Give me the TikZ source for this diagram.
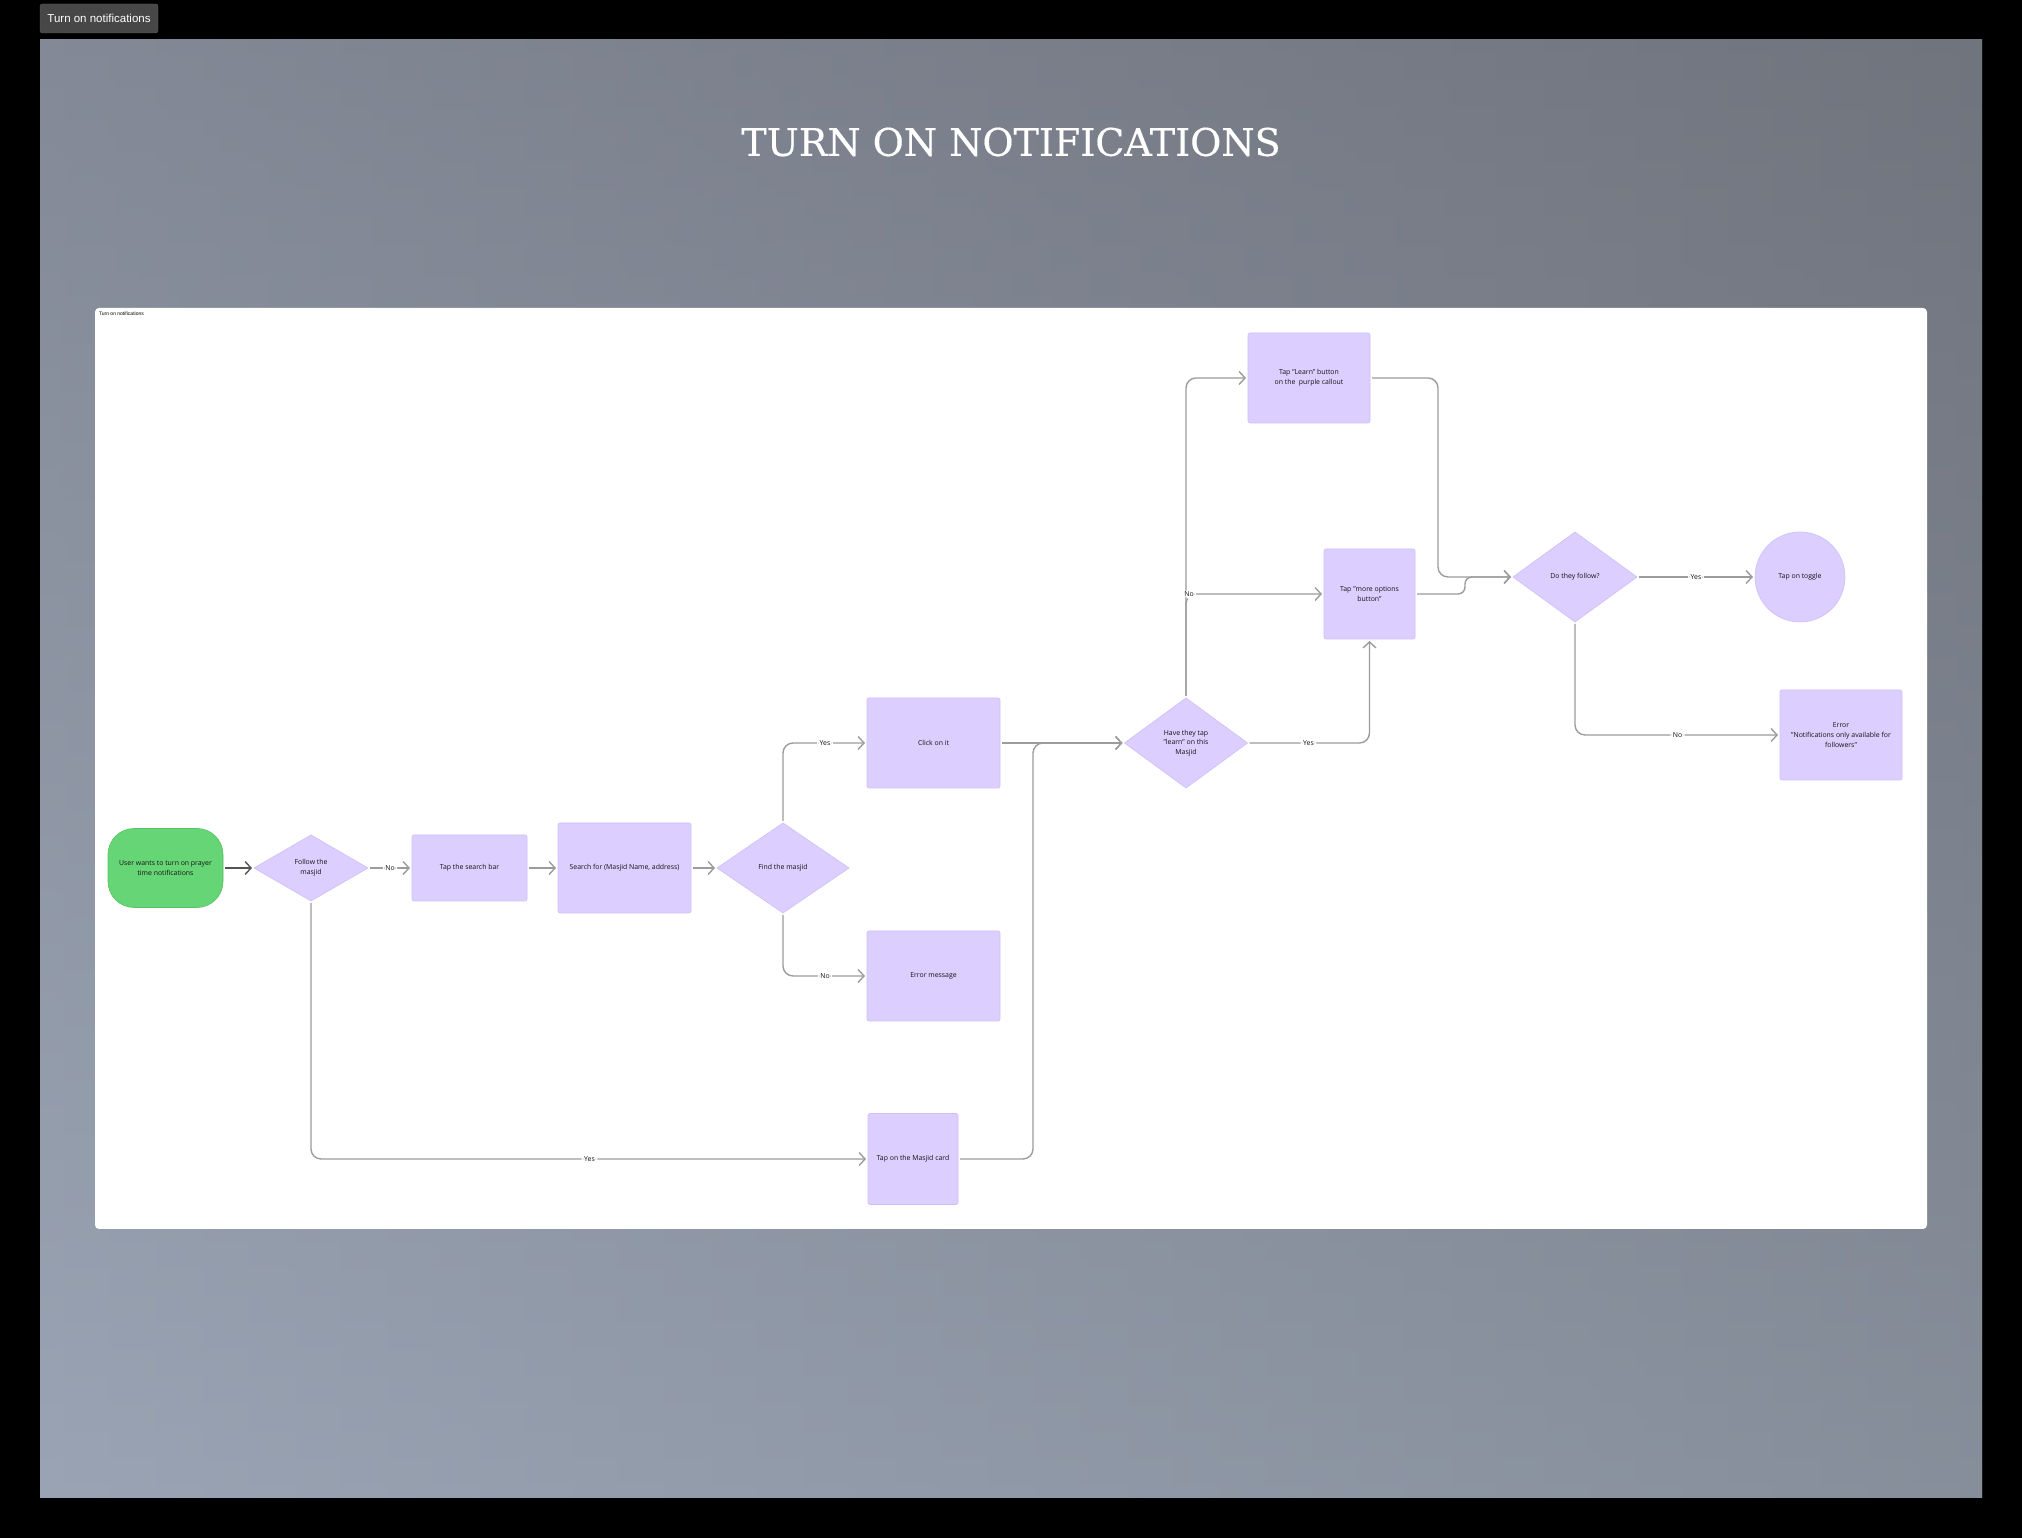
\documentclass[tikz,border=0pt]{standalone}
\usepackage{fontspec}
\setmainfont{Open Sans}
\newfontfamily\titlefont[FakeBold=0.4]{DejaVu Serif}
\newfontfamily\uifont{Liberation Sans}
\usepackage{tikz}
\usetikzlibrary{arrows.meta,positioning,shapes.geometric}
\definecolor{tnpurple}{HTML}{DCCEFF}
\definecolor{tnpurpleedge}{HTML}{CFBEFA}
\definecolor{tngreen}{HTML}{66D575}
\definecolor{tngreenedge}{HTML}{56C265}
\definecolor{tnline}{HTML}{9C9C9C}
\definecolor{tndark}{HTML}{555555}
\definecolor{tntext}{HTML}{141414}
\definecolor{tnpaneltop}{HTML}{707480}
\definecolor{tnpanelbot}{HTML}{9EAABC}
\definecolor{tnpanelleft}{HTML}{969EAC}
\definecolor{tnpanelright}{HTML}{70747B}
\definecolor{tnbutton}{HTML}{474747}
\tikzset{
  tnbox/.style={draw=tnpurpleedge, fill=tnpurple, rounded corners=2pt, align=center,
    font=\fontsize{6.9}{9.6}\selectfont, text=tntext, inner sep=2pt, outer sep=0pt, line width=0.6pt},
  tnstart/.style={draw=tngreenedge, fill=tngreen, rounded corners=26pt, align=center,
    font=\fontsize{6.9}{9.6}\selectfont, text=tntext, inner sep=2pt, outer sep=0pt, line width=0.6pt},
  tndecision/.style={diamond, draw=tnpurpleedge, fill=tnpurple, align=center,
    font=\fontsize{6.9}{9.6}\selectfont, text=tntext, inner sep=1pt, outer sep=0pt, line width=0.6pt},
  tnarrow/.style={-{Straight Barb[length=6pt,width=13pt]}, line width=1.4pt, draw=tnline,
    rounded corners=10pt, shorten >=2pt, shorten <=2pt},
  tnlabel/.style={fill=white, inner sep=2.5pt, font=\fontsize{6.9}{8}\selectfont, text=tntext}
}
\begin{document}
\begin{tikzpicture}[x=1pt, y=1pt]
  \useasboundingbox (0,0) rectangle (2022,1538);
  % backdrop
  \fill[black] (0,0) rectangle (2022,1538);
  \shade[top color=tnpaneltop, bottom color=tnpanelbot] (40,40) rectangle (1982,1498);
  \shade[left color=tnpanelleft, right color=tnpanelright, opacity=0.5] (40,40) rectangle (1982,1498);
  \node[fill=tnbutton, draw=gray!75!black, rounded corners=2.5pt, text=white,
    font=\uifont\fontsize{11.5}{13}\selectfont, minimum width=118pt, minimum height=29pt,
    inner sep=0pt] (button) at (99,1519.5) {Turn on notifications};
  \node[text=white, font=\titlefont\fontsize{38}{40}\selectfont] (title) at (1011,1396) {TURN ON NOTIFICATIONS};
  \node[fill=white, rounded corners=4pt, minimum width=1832pt, minimum height=921pt,
    inner sep=0pt] (board) at (1011,769.5) {};
  \node[anchor=north west, inner sep=0pt, font=\uifont\fontsize{5}{6}\selectfont]
    (boardname) at ([shift={(4pt,-4pt)}]board.north west) {Turn on notifications};

  % flow
  \node[tnstart, minimum width=115pt, minimum height=79pt] (user) at (165.5,670) {User wants to turn on prayer\\time notifications};
  \node[tndecision, minimum width=114pt, minimum height=66pt, right=31pt of user] (follow) {Follow the\\masjid};
  \node[tnbox, minimum width=115pt, minimum height=66pt, right=44pt of follow] (bar) {Tap the search bar};
  \node[tnbox, minimum width=133pt, minimum height=90pt, right=31pt of bar] (search) {Search for (Masjid Name, address)};
  \node[tndecision, minimum width=132pt, minimum height=90pt, right=26pt of search] (find) {Find the masjid};
  \node[tnbox, minimum width=133pt, minimum height=90pt] (click) at (933.5,795) {Click on it};
  \node[tnbox, minimum width=133pt, minimum height=90pt] (errmsg) at (933.5,562) {Error message};
  \node[tnbox, minimum width=90pt, minimum height=91pt] (card) at (913,379) {Tap on the Masjid card};
  \node[tndecision, minimum width=123pt, minimum height=90pt] (tapped) at (1186,795) {Have they tap\\"learn" on this\\Masjid};
  \node[tnbox, minimum width=122pt, minimum height=90pt] (learn) at (1309,1160) {Tap "Learn" button\\on the\ \ purple callout};
  \node[tnbox, minimum width=91pt, minimum height=90pt] (options) at (1369.5,944) {Tap "more options\\button"};
  \node[tndecision, minimum width=124pt, minimum height=90pt] (dofollow) at (1575,961) {Do they follow?};
  \node[tnbox, circle, rounded corners=0pt, minimum size=90pt] (toggle) at (1800,961) {Tap on toggle};
  \node[tnbox, minimum width=122pt, minimum height=90pt] (error) at (1841,803) {Error\\"Notifications only available for\\followers"};

  \coordinate (cardturn) at (1033,795);
  \coordinate (learnturn) at (1438,961);
  \coordinate (optionsturn) at (1465,961);

  \draw[tnarrow, draw=tndark] (user) -- (follow);
  \draw[tnarrow] (follow) -- node[tnlabel]{No} (bar);
  \draw[tnarrow] (bar) -- (search);
  \draw[tnarrow] (search) -- (find);
  \draw[tnarrow] (find.north) |- node[tnlabel, pos=0.75]{Yes} (click.west);
  \draw[tnarrow] (find.south) |- node[tnlabel, pos=0.75]{No} (errmsg.west);
  \draw[tnarrow] (follow.south) |- node[tnlabel, pos=0.75]{Yes} (card.west);
  \draw[tnarrow] (click) -- (tapped);
  \draw[tnarrow] (card.east) -| (cardturn) -- (tapped.west);
  \draw[tnarrow] (tapped.north) |- (learn.west);
  \draw[tnarrow] (tapped.north) |- node[tnlabel, pos=0.5, xshift=3pt]{No} (options.west);
  \draw[tnarrow] (tapped.east) -| node[tnlabel, pos=0.25]{Yes} (options.south);
  \draw[tnarrow] (learn.east) -| (learnturn) -- (dofollow.west);
  \draw[tnarrow, rounded corners=7pt] (options.east) -| (optionsturn) -- (dofollow.west);
  \draw[tnarrow] (dofollow) -- node[tnlabel]{Yes} (toggle);
  \draw[tnarrow] (dofollow.south) |- node[tnlabel, pos=0.75]{No} (error.west);
\end{tikzpicture}
\end{document}
